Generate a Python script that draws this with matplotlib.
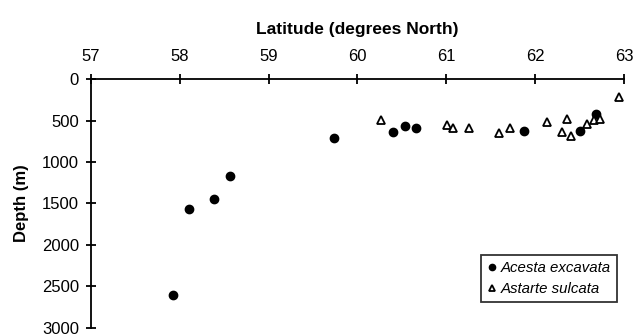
import matplotlib
matplotlib.use("Agg")
import matplotlib.pyplot as plt

plt.rcParams['font.family'] = ['Liberation Sans', 'DejaVu Sans']

# Acesta excavata (filled circles)
acesta_lat = [57.92, 58.10, 58.39, 58.56, 59.74, 60.40, 60.53, 60.66, 61.87, 62.51, 62.69]
acesta_depth = [2600, 1570, 1446, 1164, 705, 636, 560, 588, 628, 628, 415]

# Astarte sulcata (open triangles)
astarte_lat = [60.26, 61.01, 61.08, 61.25, 61.59, 61.72, 62.13, 62.30, 62.36,
               62.40, 62.58, 62.66, 62.73, 62.94]
astarte_depth = [492, 556, 588, 584, 645, 588, 519, 636, 480,
                 685, 536, 492, 483, 210]

xticks = [57, 58, 59, 60, 61, 62, 63]
yticks = [0, 500, 1000, 1500, 2000, 2500, 3000]

fig = plt.figure(figsize=(6.34, 3.34), dpi=100)
ax = fig.add_axes([0.1435, 0.019, 0.8407, 0.7437])

ax.plot(acesta_lat, acesta_depth, 'o', color='black', markersize=6,
        linestyle='none', label='Acesta excavata', clip_on=False)
ax.plot(astarte_lat, astarte_depth, '^', markerfacecolor='white',
        markeredgecolor='black', markeredgewidth=1.3, markersize=5.5,
        linestyle='none', label='Astarte sulcata', clip_on=False)

ax.set_xlim(57, 63)
ax.set_ylim(3000, 0)
ax.set_xticks(xticks)
ax.set_yticks(yticks)
ax.xaxis.tick_top()
ax.xaxis.set_label_position('top')
ax.spines['right'].set_visible(False)
ax.spines['bottom'].set_visible(False)
ax.spines['top'].set_linewidth(1.3)
ax.spines['left'].set_linewidth(1.3)
ax.tick_params(direction='inout', length=7.5, width=1.3, labelsize=12)
ax.tick_params(axis='x', pad=7)
ax.tick_params(axis='y', pad=5)

ax.set_xlabel('Latitude (degrees North)', fontsize=12.5, fontweight='bold', labelpad=11)
ax.set_ylabel('Depth (m)', fontsize=12, fontweight='bold', labelpad=9)

leg = ax.legend(loc='lower right', bbox_to_anchor=(0.987, 0.103),
                prop={'style': 'italic', 'size': 10.8}, frameon=True,
                fancybox=False, handlelength=0.6, handletextpad=0.3,
                borderpad=0.4, labelspacing=0.45, borderaxespad=0,
                markerscale=0.75)
leg.get_frame().set_edgecolor('black')
leg.get_frame().set_linewidth(1.3)

fig.savefig('out.png', dpi=100)
